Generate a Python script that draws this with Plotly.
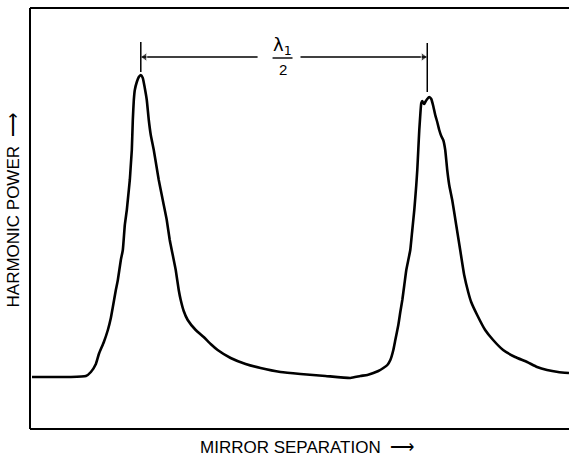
import numpy as np
import plotly.graph_objects as go

# Mirror separation (arbitrary units) and harmonic power (arbitrary units)
separation = [2, 21, 41, 56, 61, 66, 69, 74, 78, 81,
              83, 86, 88, 91, 93, 95, 97, 98, 100, 101,
              102, 103, 104, 105, 107, 109, 111, 113, 115, 117,
              119, 121, 124, 127, 129, 132, 134, 137, 140, 143,
              146, 149, 151, 154, 158, 166, 174, 181, 188, 201,
              216, 231, 251, 271, 296, 321,
              331, 338, 344, 349, 354, 358, 361, 364, 366, 369,
              371, 373, 375, 377, 379, 381, 383, 385, 387, 388,
              389, 390, 391, 392, 393, 394, 395, 396, 398, 400,
              402, 404, 406, 408, 410, 412, 414, 416, 418, 420,
              423, 427, 431, 435, 439, 442, 448, 456, 464, 474,
              486, 498, 508, 518, 529, 540]
power = [52, 52, 52, 53, 57, 65, 75, 87, 99, 111,
         122, 139, 149, 169, 179, 204, 219, 229, 249, 264,
         279, 309, 329, 339, 347, 352, 354, 351, 341, 329,
         309, 294, 279, 261, 249, 234, 224, 209, 189, 174,
         159, 139, 129, 118, 109, 99, 92, 85, 79, 71,
         65, 61, 57, 55, 53, 51,
         53, 54, 56, 58, 61, 64, 69, 79, 89, 104,
         117, 129, 144, 159, 169, 179, 199, 219, 244, 259,
         279, 299, 314, 326, 328, 326, 325, 327, 330, 332,
         330, 323, 314, 307, 299, 293, 289, 279, 259, 244,
         229, 204, 179, 154, 137, 127, 114, 99, 89, 79,
         72, 67, 62, 59, 57, 56]

x_title = "MIRROR SEPARATION  ⟶"
y_title = "HARMONIC POWER  ⟶"

sep = np.array(separation)
pw = np.array(power)
half = len(sep) // 2
p1 = sep[:half][np.argmax(pw[:half])]
p2 = sep[half:][np.argmax(pw[half:])] - 2

fig = go.Figure()
fig.add_trace(go.Scatter(x=separation, y=power, mode="lines",
                         line=dict(color="black", width=2.6, shape="spline", smoothing=0.4),
                         hoverinfo="skip", showlegend=False))

dim_y = 372
# dimension line segments
fig.add_trace(go.Scatter(x=[p1, 228], y=[dim_y, dim_y], mode="lines",
                         line=dict(color="black", width=1.3), hoverinfo="skip", showlegend=False))
fig.add_trace(go.Scatter(x=[271, p2], y=[dim_y, dim_y], mode="lines",
                         line=dict(color="black", width=1.3), hoverinfo="skip", showlegend=False))
# arrowheads
fig.add_trace(go.Scatter(x=[p1 + 4, p2 - 4], y=[dim_y, dim_y], mode="markers",
                         marker=dict(symbol=["triangle-left", "triangle-right"], size=[8, 8],
                                     color="black"),
                         hoverinfo="skip", showlegend=False))
# vertical markers
fig.add_shape(type="line", x0=p1, x1=p1, y0=357, y1=387, line=dict(color="black", width=1.5))
fig.add_shape(type="line", x0=p2, x1=p2, y0=337, y1=386, line=dict(color="black", width=1.5))
# fraction bar
fig.add_shape(type="line", x0=243, x1=263, y0=dim_y - 1, y1=dim_y - 1, line=dict(color="black", width=1.4))
# frame: top, bottom and left edges (no right edge)
frame = dict(type="line", xref="paper", yref="paper", line=dict(color="black", width=2))
fig.add_shape(x0=0, x1=1, y0=1, y1=1, **frame)
fig.add_shape(x0=0, x1=1, y0=0, y1=0, **frame)
fig.add_shape(x0=0, x1=0, y0=0, y1=1, **frame)

fig.add_annotation(x=253, y=383, xref="x", yref="y", text="λ<sub>1</sub>", showarrow=False,
                   font=dict(family="DejaVu Sans", size=18, color="black"))
fig.add_annotation(x=253, y=360, xref="x", yref="y", text="2", showarrow=False,
                   font=dict(family="Liberation Sans", size=15, color="black"))

fig.add_annotation(x=0.514, y=-0.043, xref="paper", yref="paper", text=x_title, showarrow=False,
                   xanchor="center", yanchor="middle",
                   font=dict(family="Liberation Sans", size=17, color="black"))
fig.add_annotation(x=-0.030, y=0.521, xref="paper", yref="paper", text=y_title, showarrow=False,
                   xanchor="center", yanchor="middle",
                   textangle=-90, font=dict(family="Liberation Sans", size=17, color="black"))

fig.update_xaxes(range=[0, 540], showline=False, showgrid=False, zeroline=False,
                 showticklabels=False, ticks="")
fig.update_yaxes(range=[0, 421], showline=False, showgrid=False, zeroline=False,
                 showticklabels=False, ticks="")

fig.update_layout(width=569, height=457, margin=dict(l=30, r=0, t=8, b=28),
                  paper_bgcolor="white", plot_bgcolor="white")

fig.write_html("out.html", config={"displayModeBar": False},
               post_script="document.body.style.margin='0';document.body.style.overflow='hidden';")
